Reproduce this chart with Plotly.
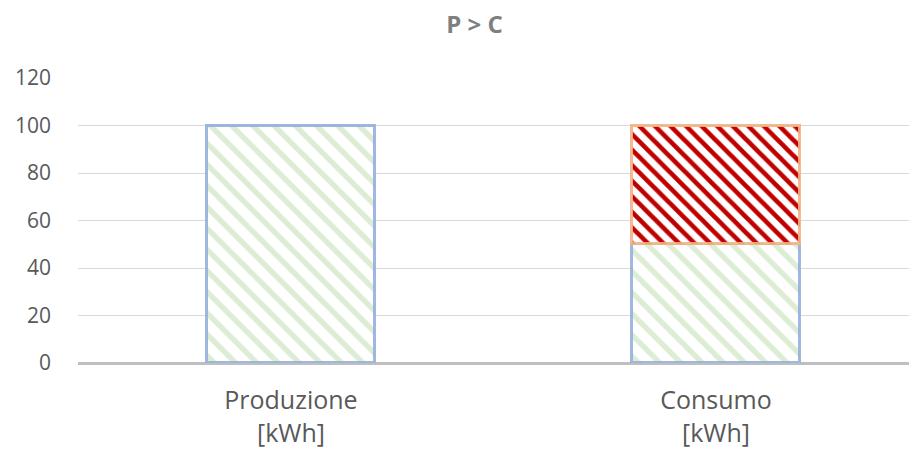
import plotly.graph_objects as go

categories = ["Produzione<br>[kWh]", "Consumo<br>[kWh]"]
autoconsumo = [100, 50]
prelievo = [0, 50]
y_ticks = [0, 20, 40, 60, 80, 100, 120]

GREEN_STRIPE = "#DCEDD4"
BLUE_EDGE = "rgba(143,170,220,0.85)"
RED_STRIPE = "#C00000"
ORANGE_EDGE = "rgba(244,177,131,0.9)"
TEXT = "#595959"

# the page body has an 8px margin, so the figure is offset by 8px
fig = go.Figure()
fig.add_trace(go.Bar(
    x=[0, 1], y=autoconsumo, name="Autoconsumo", width=0.395,
    marker=dict(
        color="white",
        line=dict(color=BLUE_EDGE, width=3),
        pattern=dict(shape="\\", fgcolor=GREEN_STRIPE, fgopacity=1, bgcolor="white", size=15, solidity=0.36),
    ),
))
fig.add_trace(go.Bar(
    x=[0, 1], y=prelievo, name="Prelievo", width=0.395,
    marker=dict(
        color="white",
        line=dict(color=ORANGE_EDGE, width=[0, 3]),
        pattern=dict(shape="\\", fgcolor=RED_STRIPE, fgopacity=1, bgcolor="white", size=11, solidity=0.42),
    ),
))

fig.update_layout(
    barmode="stack", width=917, height=454, showlegend=False,
    margin=dict(l=70, r=8, t=70, b=99),
    paper_bgcolor="white", plot_bgcolor="white",
    font=dict(family="Open Sans, sans-serif", color=TEXT, size=21),
    title=dict(text="<b>P > C</b>", x=0.5 + 8 / 917, xanchor="center", y=1 - 17 / 454, yanchor="middle",
               font=dict(size=24, color="#7F7F7F")),
    bargap=0,
)
fig.update_xaxes(
    range=[-0.501, 1.473], tickvals=[0, 1], ticktext=categories,
    showgrid=False, zeroline=False, showline=False, ticks="",
    tickfont=dict(size=25, color=TEXT), ticklabelstandoff=20,
)
fig.update_yaxes(
    range=[0, 120], tickvals=y_ticks, showgrid=True, gridcolor="#D9D9D9", gridwidth=1,
    zeroline=True, zerolinecolor="#BFBFBF", zerolinewidth=3, showline=False,
    tickfont=dict(size=21, color=TEXT), ticklabelstandoff=26,
)

fig.write_html("out.html")
